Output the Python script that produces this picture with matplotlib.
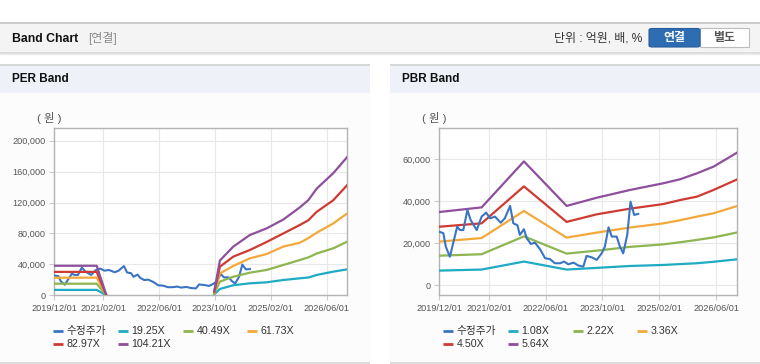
import numpy as np
import matplotlib
matplotlib.use("Agg")
import matplotlib.pyplot as plt
from matplotlib.patches import Rectangle, FancyBboxPatch
from matplotlib.lines import Line2D

plt.rcParams['font.family'] = ['Liberation Sans', 'Noto Sans CJK KR', 'DejaVu Sans']

# ---------------- data ----------------
X_TICK_POS = [0, 12.25, 26.2, 40.1, 54.1, 68.1]
X_TICK_LABELS = ['2019/12/01', '2021/02/01', '2022/06/01', '2023/10/01', '2025/02/01', '2026/06/01']

nan = np.nan
# adjusted price (shared by both charts)
PRICE_X = [0, 1, 1.6, 2.6, 3.4, 4.4, 5.1, 5.9, 6.9, 7.7, 9.2, 10.4, 11.5, 12.5, 13.7, 15.1, 16.1,
           17.4, 18.2, 19.2, 19.8, 20.8, 21.5, 22.5, 23.5, 24.8, 26.0, 27.2, 28.4, 29.7, 30.7,
           31.7, 33.0, 34.2, 35.4, 36.2, 37.5, 38.7, 39.9, 40.7, 41.6, 42.4, 43.6, 44.4, 45.2,
           46.2, 47.0, 47.9, 48.9]
PRICE = [25500, 24800, 18400, 13600, 20000, 27900, 26300, 26300, 35900, 31100, 26300, 32700,
         34600, 31900, 32700, 29800, 31900, 37800, 29500, 28600, 24000, 26700, 22400, 19700,
         20300, 17100, 12900, 12500, 10500, 10500, 11300, 10000, 10800, 9400, 8900, 14000,
         13300, 12100, 15200, 18400, 27600, 23200, 23200, 18400, 15200, 24000, 39800, 33500, 34000]

# PER band
PER_LABELS = ['19.25X', '40.49X', '61.73X', '82.97X', '104.21X']
PER_X = [0, 10.6, 12.9, nan, 40.0, 41.4, 44.75, 48.9, 53.1, 57.25, 61.4, 63.5, 65.6, 69.75, 73.25]
PER_1925 = [7000, 7000, 400, nan, 1500, 8200, 13000, 15500, 16800, 19800, 22000, 23000, 26300, 30600, 33600]
PER_4049 = [15000, 15000, 800, nan, 2500, 17700, 24000, 29300, 32800, 39200, 45700, 49000, 54000, 60800, 69400]
PER_6173 = [22800, 22800, 1200, nan, 3500, 28400, 38000, 47800, 53400, 63000, 68000, 74000, 81000, 93000, 106000]
PER_8297 = [30300, 30300, 1600, nan, 4500, 37000, 50000, 58600, 69000, 80000, 91000, 97000, 108000, 123000, 142700]
PER_10421 = [38200, 38200, 2000, nan, 5600, 45000, 63000, 78000, 86600, 98000, 113800, 123000, 138000, 158000, 179000]

# PBR band
PBR_LABELS = ['1.08X', '2.22X', '3.36X', '4.50X', '5.64X']
PBR_X = [0, 10.4, 20.8, 31.3, 38.7, 46.9, 55.1, 59.2, 63.3, 67.4, 73.3]
PBR_108 = [7000, 7500, 11300, 7500, 8300, 9200, 9700, 10100, 10500, 11200, 12400]
PBR_222 = [14100, 14800, 23300, 15100, 16500, 18300, 19500, 20500, 21600, 22800, 25200]
PBR_336 = [20800, 22500, 35400, 22700, 25100, 27500, 29500, 31000, 32700, 34300, 37800]
PBR_450 = [27900, 29500, 47100, 30200, 33800, 36500, 38700, 40600, 42200, 45400, 50500]
PBR_564 = [34900, 37100, 59000, 37800, 41700, 45400, 48600, 50500, 53300, 56500, 63300]

PRICE_LABEL = '수정주가'
COLORS = ['#3a74c5', '#1eabc3', '#8db550', '#f3a83a', '#cf3a32', '#8e4f9b']

W, H = 760, 364
fig = plt.figure(figsize=(W / 100, H / 100), dpi=100)
fig.patch.set_facecolor('white')


def rect(x, y, w, h, zorder=-10, **kw):
    r = Rectangle((x / W, 1 - (y + h) / H), w / W, h / H, transform=fig.transFigure,
                  zorder=zorder, **kw)
    fig.add_artist(r)
    return r


def hline(x0, x1, y, color, lw=1, zorder=-5):
    fig.add_artist(Line2D([x0 / W, x1 / W], [1 - y / H, 1 - y / H], transform=fig.transFigure,
                          color=color, lw=lw, zorder=zorder, solid_capstyle='butt'))


def ftext(x, y, s, **kw):
    fig.text(x / W, 1 - y / H, s, **kw)


# header bar
rect(0, 22, 760, 30, facecolor='#f4f4f4', edgecolor='none')
hline(0, 760, 22.5, '#c4c4c4', 1.2)
hline(0, 760, 52.5, '#d6d6d6', 1.2)
hline(0, 760, 53.5, '#ececec', 1)
ftext(12, 38.5, 'Band Chart', fontsize=8.8, fontweight='bold', color='#111111', va='center')
ftext(88, 38.5, '[연결]', fontsize=8.6, color='#8a8a8a', va='center')
ftext(642, 38.5, '단위 : 억원, 배, %', fontsize=8.6, color='#333333', va='center', ha='right')
# buttons
rect(700, 28.5, 49, 18.5, zorder=1, facecolor='white', edgecolor='#bdbdbd', lw=0.8)
btn = FancyBboxPatch((649 / W, 1 - 47 / H), 51 / W, 18.5 / H, boxstyle='round,pad=0,rounding_size=0.004',
                     transform=fig.transFigure, facecolor='#2f6db3', edgecolor='#275d9a', lw=0.8, zorder=1)
fig.add_artist(btn)
ftext(674.5, 38, '연결', fontsize=8.6, color='white', fontweight='bold', ha='center', va='center')
ftext(724.5, 38, '별도', fontsize=8.6, color='#555555', fontweight='bold', ha='center', va='center')

# panels
for (px, pw, title) in [(0, 370, 'PER Band'), (390, 370, 'PBR Band')]:
    rect(px, 64, pw, 299, facecolor='#fcfcfc', edgecolor='none')
    rect(px, 64, pw, 29, facecolor='#eef2f8', edgecolor='none')
    hline(px, px + pw, 64.5, '#d2d2d2', 1.2)
    hline(px, px + pw, 363, '#d6d6d6', 1.2)
    ftext(px + 12, 79, title, fontsize=8.5, fontweight='bold', color='#111111', va='center')


def setup_axes(ax, ylim, yticks):
    ax.set_facecolor('white')
    ax.set_xlim(0, 73.25)
    ax.set_ylim(*ylim)
    ax.set_xticks(X_TICK_POS)
    ax.set_xticklabels(X_TICK_LABELS)
    ax.set_yticks(yticks)
    ax.set_yticklabels([f'{v:,}' for v in yticks])
    ax.grid(True, color='#e8e8e8', lw=0.8)
    ax.set_axisbelow(True)
    for s in ax.spines.values():
        s.set_color('#b4b4b4')
        s.set_linewidth(1.0)
    ax.tick_params(axis='both', length=3.5, width=0.8, color='#cccccc', labelsize=6.6,
                   labelcolor='#555555', pad=2.5)


# PER axes
ax1 = fig.add_axes([54.3 / W, 1 - 295.3 / H, 293 / W, 167 / H])
setup_axes(ax1, (0, 216000), [0, 40000, 80000, 120000, 160000, 200000])
ax1.plot(PRICE_X, PRICE, color=COLORS[0], lw=1.5, zorder=3)
for vals, c in zip([PER_1925, PER_4049, PER_6173, PER_8297, PER_10421], COLORS[1:]):
    ax1.plot(PER_X, vals, color=c, lw=1.6, zorder=4)

# PBR axes
ax2 = fig.add_axes([439.3 / W, 1 - 295.3 / H, 298 / W, 167 / H])
setup_axes(ax2, (-4760, 74760), [0, 20000, 40000, 60000])
for vals, c in zip([PBR_108, PBR_222, PBR_336, PBR_450, PBR_564], COLORS[1:]):
    ax2.plot(PBR_X, vals, color=c, lw=1.6, zorder=3)
ax2.plot(PRICE_X, PRICE, color=COLORS[0], lw=1.5, zorder=4)

ftext(49, 118, '( 원 )', fontsize=8.2, color='#555555', ha='center', va='center')
ftext(434, 118, '( 원 )', fontsize=8.2, color='#555555', ha='center', va='center')


# legends
def legend(cols, labels):
    rows = [330.7, 344.0]
    for i, (lab, c) in enumerate(zip(labels, COLORS)):
        r, k = divmod(i, 4)
        x = cols[k]
        y = rows[r]
        hline(x, x + 10, y, c, 2.0, zorder=2)
        ftext(x + 13.5, y, lab, fontsize=7.7, color='#333333', va='center')


legend([53, 118, 183, 247], [PRICE_LABEL] + PER_LABELS)
legend([443.3, 507.7, 572.7, 637.3], [PRICE_LABEL] + PBR_LABELS)

fig.savefig('out.png', dpi=100, facecolor='white')
